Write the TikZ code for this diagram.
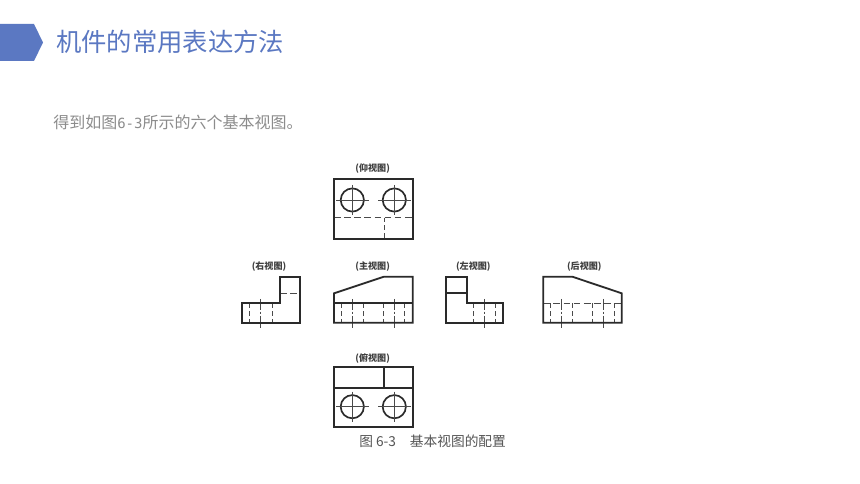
\documentclass[tikz,border=0pt]{standalone}
\usepackage{fontspec}
\setmainfont{Liberation Sans}
\newfontfamily\cjk{Noto Sans CJK SC}
\newfontfamily\halfw{DejaVu Sans Mono}
\definecolor{accent}{HTML}{5B78C2}
\definecolor{bodygray}{HTML}{8C8C8C}
\definecolor{ink}{HTML}{2A2A2A}
\tikzset{
  outline/.style={draw=ink,line width=1.35pt,line join=miter},
  hidden/.style={draw=ink!85,line width=0.65pt,dash pattern=on 3.4pt off 2.4pt},
  hiddenlong/.style={draw=ink!85,line width=0.7pt,dash pattern=on 5pt off 2.6pt},
  axis/.style={draw=ink!85,line width=0.55pt},
  viewlabel/.style={font=\cjk\bfseries\fontsize{6.8pt}{7pt}\selectfont,text=ink!90,inner sep=0pt},
}
\newcommand{\holeview}[2]{%
  \draw[outline,line width=1.25pt] (#1,#2) circle (11.6);
  \draw[axis] (#1-16,#2) -- (#1+17,#2);
  \draw[axis] (#1,#2-15) -- (#1,#2+15);
}
\newcommand{\boreview}[3]{% centre x, half width, top y
  \draw[hidden] (#1-#2,#3) -- (#1-#2,322.7);
  \draw[hidden] (#1+#2,#3) -- (#1+#2,322.7);
  \draw[axis,dash pattern=on 8pt off 1.5pt on 1.5pt off 1.5pt on 9pt off 1pt] (#1,299) -- (#1,328);
}
\begin{document}
\begin{tikzpicture}[x=0.75pt,y=-0.75pt]
\useasboundingbox (0,0) rectangle (860,484);
\fill[white] (0,0) rectangle (860,484);
% header
\fill[accent] (0,24) -- (34,24) -- (43,42.5) -- (34,61) -- (0,61) -- cycle;
\node[anchor=west,inner sep=0pt,text=accent,font=\cjk\fontsize{19pt}{22pt}\selectfont] (title) at (56,41.5) {机件的常用表达方法};
\node[anchor=west,inner sep=0pt,text=bodygray,font=\cjk\fontsize{12pt}{14pt}\selectfont] (intro) at (53,122.5) {得到如图{\halfw\fontsize{10.5pt}{12pt}\selectfont 6-3}所示的六个基本视图。};
% top: bottom view
\node[viewlabel] (lbUp) at (372.7,169) {(仰视图)};
\holeview{352.3}{200}
\holeview{394.3}{200}
\draw[hiddenlong] (334,217.7) -- (412.7,217.7);
\draw[hidden] (384.3,217.7) -- (384.3,239);
\draw[outline] (334,179) rectangle (412.7,239);
% right view
\node[viewlabel] (lbRight) at (269,266.7) {(右视图)};
\boreview{260.7}{11.3}{303.3}
\draw[hiddenlong] (280,293.3) -- (300,293.3);
\draw[outline] (242.3,303.3) -- (280,303.3) -- (280,276.7) -- (300,276.7) -- (300,322.7) -- (242.3,322.7) -- cycle;
% main view
\node[viewlabel] (lbMain) at (372.7,266.7) {(主视图)};
\boreview{352.3}{10.8}{303.3}
\boreview{394}{10.8}{303.3}
\draw[outline] (334,293.3) -- (384,276.7) -- (412.7,276.7) -- (412.7,322.7) -- (334,322.7) -- cycle;
\draw[outline] (334,303.3) -- (412.7,303.3);
% left view
\node[viewlabel] (lbLeft) at (473.3,266.7) {(左视图)};
\boreview{484.7}{11.2}{303.3}
\draw[outline] (446,276.7) -- (466.7,276.7) -- (466.7,303.3) -- (503.3,303.3) -- (503.3,322.7) -- (446,322.7) -- cycle;
\draw[outline] (446,293.3) -- (466.7,293.3);
% back view
\node[viewlabel] (lbBack) at (584.3,266.7) {(后视图)};
\boreview{561.7}{10.8}{303.3}
\boreview{603.3}{10.8}{303.3}
\draw[hiddenlong] (543.3,303.3) -- (621.7,303.3);
\draw[outline] (543.3,276.7) -- (572.3,276.7) -- (621.7,293.3) -- (621.7,322.7) -- (543.3,322.7) -- cycle;
% plan view
\node[viewlabel] (lbDown) at (372.7,358.3) {(俯视图)};
\holeview{352.3}{406.7}
\holeview{394.3}{406.7}
\draw[outline] (334,367.3) rectangle (412.7,427.3);
\draw[outline] (334,387.7) -- (412.7,387.7);
\draw[outline] (384.3,367.3) -- (384.3,387.7);
% caption
\node[inner sep=0pt,text=ink!80,font=\cjk\fontsize{10.3pt}{12pt}\selectfont,anchor=west] (cap) at (359,441.3) {图 6-3\hspace{1em}基本视图的配置};
\end{tikzpicture}
\end{document}
